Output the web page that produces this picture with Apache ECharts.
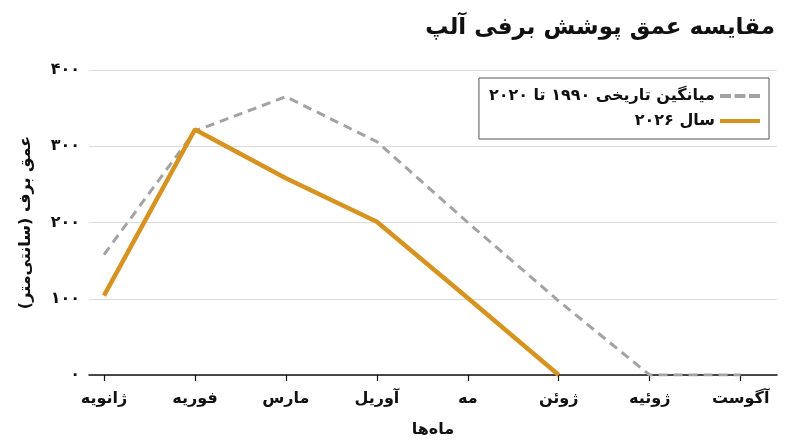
<!DOCTYPE html>
<html>
<head>
<meta charset="utf-8">
<script src="https://cdn.jsdelivr.net/npm/echarts@6/dist/echarts.min.js"></script>
<style>
  html, body { margin: 0; padding: 0; background: #fff; }
  #main { width: 800px; height: 447px; }
</style>
</head>
<body>
<div id="main"></div>
<script>
// داده‌ها
var months = ['ژانویه', 'فوریه', 'مارس', 'آوریل', 'مه', 'ژوئن', 'ژوئیه', 'آگوست'];
var histAvg = [158, 320, 365, 306, 200, 97, 0, 0];
var year2026 = [104, 322, 258, 201, 101, 0, null, null];
var yLabels = ['۰', '۱۰۰', '۲۰۰', '۳۰۰', '۴۰۰'];
var monthIdx = [0, 1, 2, 3, 4, 5, 6, 7];
var histName = 'میانگین تاریخی ۱۹۹۰ تا ۲۰۲۰';
var yearName = 'سال ۲۰۲۶';

var FONT = 'DejaVu Sans';
var GRAY = '#a3a3a3', ORANGE = '#d6931f';

var chart = echarts.init(document.getElementById('main'));

var toPairs = function(arr){
	var out = [];
	for (var i = 0; i < arr.length; i++) {
		if (arr[i] !== null) out.push([i, arr[i]]);
	}
	return out;
};

var option = {
	animation: false,
	title: {
		text: 'مقایسه عمق پوشش برفی آلپ',
		right: 20,
		top: 12,
		textStyle: { fontFamily: FONT, fontWeight: 'bold', fontSize: 23, color: '#111' }
	},
	legend: {
		orient: 'vertical',
		right: 31,
		top: 78,
		align: 'right',
		itemWidth: 40,
		itemHeight: 4,
		itemGap: 9,
		padding: [10, 9, 10, 10],
		borderColor: '#555',
		borderWidth: 1,
		textStyle: { fontFamily: FONT, fontWeight: 'bold', fontSize: 16, color: '#111' },
		data: [
			{ name: histName, icon: 'path://M0,0h11v4h-11z M14.5,0h11v4h-11z M29,0h11v4h-11z', itemStyle: { color: GRAY } },
			{ name: yearName, icon: 'rect', itemStyle: { color: ORANGE } }
		]
	},
	grid: { left: 89, right: 23, top: 70, bottom: 72 },
	xAxis: {
		type: 'value',
		min: -0.165,
		max: 7.4,
		name: 'ماه‌ها',
		nameLocation: 'middle',
		nameGap: 47,
		nameTextStyle: { fontFamily: FONT, fontWeight: 'bold', fontSize: 16, color: '#111' },
		axisLine: { lineStyle: { color: '#111', width: 1.5 } },
		axisTick: { customValues: monthIdx, length: 6, lineStyle: { color: '#111', width: 1.2 } },
		axisLabel: {
			customValues: monthIdx,
			margin: 16,
			fontFamily: FONT, fontWeight: 'bold', fontSize: 16, color: '#111',
			formatter: function(v){ return months[Math.round(v)]; }
		},
		splitLine: { show: false }
	},
	yAxis: {
		type: 'value',
		min: 0,
		max: 400,
		interval: 100,
		name: '\u200Fعمق برف (سانتی‌متر)\u200F',
		nameLocation: 'middle',
		nameGap: 55,
		nameTextStyle: { fontFamily: FONT, fontWeight: 'bold', fontSize: 16, color: '#111' },
		axisLine: { show: false },
		axisTick: { show: false },
		axisLabel: {
			margin: 9,
			fontFamily: FONT, fontWeight: 'bold', fontSize: 16, color: '#111',
			formatter: function(v){ return yLabels[Math.round(v / 100)]; }
		},
		splitLine: { lineStyle: { color: '#dcdcdc', width: 1 } }
	},
	series: [
		{
			name: histName,
			type: 'line',
			symbol: 'none',
			color: GRAY,
			lineStyle: { color: GRAY, width: 3, type: [9, 6] },
			data: toPairs(histAvg)
		},
		{
			name: yearName,
			type: 'line',
			symbol: 'none',
			color: ORANGE,
			lineStyle: { color: ORANGE, width: 4.5 },
			data: toPairs(year2026)
		}
	]
};

chart.setOption(option);
</script>
</body>
</html>
